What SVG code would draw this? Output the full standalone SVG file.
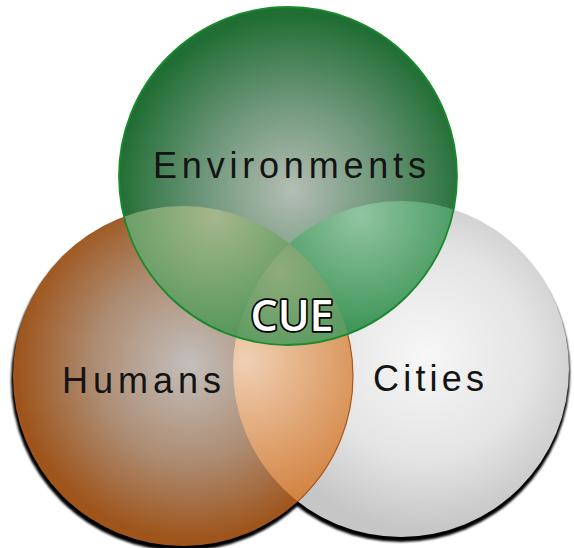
<svg xmlns="http://www.w3.org/2000/svg" width="574" height="548" viewBox="0 0 574 548">
<defs>
<style>
.lbl{font-family:"Liberation Sans",Arial,sans-serif;font-size:36px;fill:#141414;}
.cue{font-family:"Open Sans","Noto Sans",sans-serif;font-weight:600;font-size:43px;fill:#ffffff;stroke:#000000;stroke-width:3.5;paint-order:stroke;stroke-linejoin:round;}
</style>
<filter id="blur" x="-10%" y="-10%" width="120%" height="120%"><feGaussianBlur stdDeviation="1.2"/></filter>
<clipPath id="cOr"><circle cx="183" cy="376" r="170"/></clipPath>
<clipPath id="cGy"><circle cx="401" cy="369" r="168"/></clipPath>
<radialGradient id="gGreen" gradientUnits="userSpaceOnUse" cx="292" cy="190" r="175">
<stop offset="0" stop-color="#b4beb4"/><stop offset="0.5" stop-color="#6f977b"/><stop offset="1" stop-color="#216e34"/>
</radialGradient>
<radialGradient id="gOrange" gradientUnits="userSpaceOnUse" cx="190" cy="365" r="175">
<stop offset="0" stop-color="#c3bfbc"/><stop offset="0.55" stop-color="#ad8c72"/><stop offset="1" stop-color="#9e541b"/>
</radialGradient>
<radialGradient id="gGrey" gradientUnits="userSpaceOnUse" cx="425" cy="355" r="175">
<stop offset="0" stop-color="#f7f7f7"/><stop offset="0.6" stop-color="#e4e4e4"/><stop offset="1" stop-color="#c6c6c6"/>
</radialGradient>
<radialGradient id="gOG" gradientUnits="userSpaceOnUse" cx="245" cy="360" r="150">
<stop offset="0" stop-color="#f0d0b4"/><stop offset="1" stop-color="#d2823f"/>
</radialGradient>
<radialGradient id="gGO" gradientUnits="userSpaceOnUse" cx="215" cy="215" r="140">
<stop offset="0" stop-color="#a5b78c"/><stop offset="1" stop-color="#4b9254"/>
</radialGradient>
<radialGradient id="gGG" gradientUnits="userSpaceOnUse" cx="360" cy="215" r="130">
<stop offset="0" stop-color="#92c4a2"/><stop offset="1" stop-color="#35904f"/>
</radialGradient>
<radialGradient id="gTri" gradientUnits="userSpaceOnUse" cx="280" cy="270" r="80">
<stop offset="0" stop-color="#8fab7c"/><stop offset="1" stop-color="#5e9c62"/>
</radialGradient>
</defs>

<g id="shadows" filter="url(#blur)">
<circle cx="401" cy="373" r="169" fill="#000"/>
<circle cx="182" cy="380" r="171" fill="#000"/>
</g>

<g id="cities">
<circle cx="401" cy="369" r="168" fill="url(#gGrey)"/>
</g>

<g id="humans">
<circle cx="183" cy="376" r="170" fill="url(#gOrange)"/>
<circle cx="183" cy="376" r="170" fill="url(#gOG)" clip-path="url(#cGy)"/>
<circle cx="183" cy="376" r="170" fill="none" stroke="#a85a22" stroke-width="1.2" clip-path="url(#cGy)"/>
</g>

<g id="environments">
<circle cx="288" cy="176" r="169" fill="url(#gGreen)"/>
<circle cx="288" cy="176" r="169" fill="url(#gGO)" clip-path="url(#cOr)"/>
<circle cx="288" cy="176" r="169" fill="url(#gGG)" clip-path="url(#cGy)"/>
<g clip-path="url(#cOr)"><circle cx="288" cy="176" r="169" fill="url(#gTri)" clip-path="url(#cGy)"/></g>
<circle cx="288" cy="176" r="169" fill="none" stroke="#1a8a2c" stroke-width="1.8"/>
</g>

<g id="labels">
<text class="lbl" x="153" y="178" letter-spacing="4.8">Environments</text>
<text class="lbl" x="62" y="393" letter-spacing="5">Humans</text>
<text class="lbl" x="373" y="391" letter-spacing="4.2" fill="#222">Cities</text>
<text class="cue" x="292" y="331" text-anchor="middle">CUE</text>
</g>
</svg>
